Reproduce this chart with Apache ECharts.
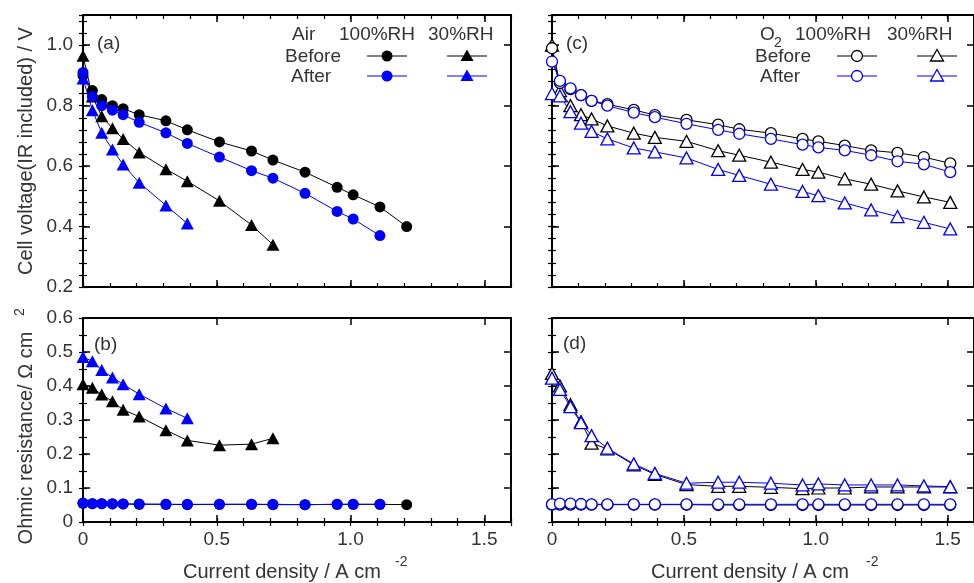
<!DOCTYPE html>
<html><head><meta charset="utf-8">
<script src="https://cdn.jsdelivr.net/npm/echarts@6/dist/echarts.min.js"></script>
<style>html,body{margin:0;padding:0;background:#fff}#c{width:974px;height:583px}</style>
</head><body><div id="c"></div>
<script>
// ---------- data ----------
const airX = [0, 0.035, 0.07, 0.11, 0.15, 0.21, 0.31, 0.39, 0.51, 0.63, 0.71, 0.83, 0.95, 1.01, 1.11, 1.21];
const airBefore100V = [0.90, 0.85, 0.82, 0.80, 0.79, 0.77, 0.75, 0.72, 0.68, 0.65, 0.62, 0.58, 0.53, 0.505, 0.465, 0.40];
const airAfter100V = [0.91, 0.83, 0.80, 0.785, 0.77, 0.745, 0.71, 0.675, 0.63, 0.585, 0.56, 0.51, 0.45, 0.425, 0.37];
const airBefore30V = [0.965, 0.83, 0.765, 0.725, 0.69, 0.645, 0.59, 0.55, 0.485, 0.405, 0.34];
const airAfter30V = [0.89, 0.785, 0.71, 0.655, 0.605, 0.545, 0.47, 0.41];
const airBefore100R = [0.055, 0.054, 0.054, 0.053, 0.053, 0.052, 0.052, 0.051, 0.052, 0.052, 0.051, 0.051, 0.052, 0.052, 0.052, 0.051];
const airAfter100R = [0.056, 0.054, 0.054, 0.054, 0.053, 0.053, 0.052, 0.052, 0.052, 0.052, 0.052, 0.051, 0.052, 0.052, 0.052];
const airBefore30R = [0.405, 0.395, 0.375, 0.355, 0.33, 0.31, 0.27, 0.24, 0.226, 0.229, 0.246];
const airAfter30R = [0.485, 0.473, 0.447, 0.425, 0.405, 0.376, 0.334, 0.305];

const o2X = [0, 0.03, 0.07, 0.11, 0.15, 0.21, 0.31, 0.39, 0.51, 0.63, 0.71, 0.83, 0.95, 1.01, 1.11, 1.21, 1.31, 1.41, 1.51];
const o2Before100V = [0.99, 0.875, 0.855, 0.835, 0.816, 0.805, 0.786, 0.769, 0.753, 0.737, 0.722, 0.709, 0.69, 0.682, 0.668, 0.652, 0.644, 0.63, 0.609];
const o2After100V = [0.946, 0.882, 0.857, 0.835, 0.816, 0.80, 0.777, 0.762, 0.74, 0.72, 0.707, 0.69, 0.671, 0.662, 0.652, 0.636, 0.616, 0.606, 0.58];
const o2Before30V = [1.0, 0.85, 0.80, 0.77, 0.756, 0.733, 0.709, 0.695, 0.682, 0.651, 0.636, 0.613, 0.589, 0.58, 0.558, 0.54, 0.518, 0.498, 0.48];
const o2After30V = [0.84, 0.832, 0.78, 0.742, 0.715, 0.69, 0.66, 0.647, 0.627, 0.589, 0.569, 0.54, 0.516, 0.502, 0.478, 0.455, 0.433, 0.414, 0.392];
const o2Before100R = [0.051, 0.051, 0.051, 0.051, 0.051, 0.051, 0.051, 0.051, 0.051, 0.05, 0.05, 0.05, 0.05, 0.05, 0.05, 0.05, 0.05, 0.05, 0.05];
const o2After100R = [0.052, 0.054, 0.054, 0.053, 0.052, 0.052, 0.052, 0.052, 0.052, 0.052, 0.052, 0.052, 0.052, 0.052, 0.052, 0.052, 0.052, 0.052, 0.052];
const o2Before30R = [0.437, 0.40, 0.345, 0.295, 0.232, 0.215, 0.168, 0.14, 0.11, 0.105, 0.105, 0.102, 0.098, 0.10, 0.10, 0.103, 0.103, 0.103, 0.103];
const o2After30R = [0.423, 0.39, 0.339, 0.292, 0.254, 0.217, 0.171, 0.143, 0.114, 0.117, 0.117, 0.114, 0.109, 0.112, 0.109, 0.109, 0.109, 0.106, 0.104];

const xTickLabels = ['0', '0.5', '1.0', '1.5'];
const panelLabels = ['(a)', '(b)', '(c)', '(d)'];

// ---------- layout ----------
const FONT = '"Liberation Sans", Arial, sans-serif';
const TXT = '#333';
const BLUE = '#0000ff';
const grids = [
  {left: 83, top: 15, width: 428, height: 272},
  {left: 83, top: 318, width: 428, height: 204},
  {left: 552, top: 15, width: 428, height: 272},
  {left: 552, top: 318, width: 428, height: 204}
];
const yCfg = [
  {min: 0.2, max: 1.1, major: 0.2, minor: 0.04, labels: true, showMax: false},
  {min: 0, max: 0.6, major: 0.1, minor: 0.05, labels: true, showMax: true},
  {min: 0.2, max: 1.1, major: 0.2, minor: 0.04, labels: false, showMax: false},
  {min: 0, max: 0.6, major: 0.1, minor: 0.05, labels: false, showMax: true}
];
const xAxes = [], yAxes = [];
const line2 = {show: true, onZero: false, lineStyle: {color: '#000', width: 2}};
function fmtX(v) { const i = Math.round(v / 0.5); return Math.abs(v - i * 0.5) < 1e-6 ? xTickLabels[i] : ''; }
grids.forEach((g, gi) => {
  const showX = (gi === 1 || gi === 3);
  ['bottom', 'top'].forEach(pos => {
    xAxes.push({type: 'value', gridIndex: gi, position: pos, min: 0, max: 1.6, interval: 0.5,
      axisLine: line2, splitLine: {show: false},
      axisTick: {show: true, inside: true, length: 7, lineStyle: {color: '#000', width: 1.5}},
      axisLabel: {show: showX && pos === 'bottom', showMaxLabel: false, margin: 8, color: TXT, fontSize: 19, fontFamily: FONT, formatter: fmtX}});
    xAxes.push({type: 'value', gridIndex: gi, position: pos, min: 0, max: 1.6, interval: 0.1,
      axisLine: {show: false}, splitLine: {show: false},
      axisTick: {show: true, inside: true, length: 4, lineStyle: {color: '#000', width: 1.2}},
      axisLabel: {show: false}});
  });
  const yc = yCfg[gi];
  ['left', 'right'].forEach(pos => {
    yAxes.push({type: 'value', gridIndex: gi, position: pos, min: yc.min, max: yc.max, interval: yc.major,
      axisLine: line2, splitLine: {show: false},
      axisTick: {show: true, inside: true, length: 7, lineStyle: {color: '#000', width: 1.5}},
      axisLabel: {show: yc.labels && pos === 'left', showMaxLabel: yc.showMax, showMinLabel: true, margin: 10, color: TXT, fontSize: 19, fontFamily: FONT,
        formatter: v => Math.abs(v) < 1e-9 ? '0' : v.toFixed(1)}});
    yAxes.push({type: 'value', gridIndex: gi, position: pos, min: yc.min, max: yc.max, interval: yc.minor,
      axisLine: {show: false}, splitLine: {show: false},
      axisTick: {show: true, inside: true, length: 4, lineStyle: {color: '#000', width: 1.2}},
      axisLabel: {show: false}});
  });
});

function pair(xs, ys) { return ys.map((y, i) => [xs[i], y]); }
function mk(name, gi, xs, ys, color, shape, open) {
  const tri = shape === 'triangle';
  return {
    name, type: 'line', xAxisIndex: gi * 4, yAxisIndex: gi * 4,
    data: pair(xs, ys), symbol: shape, symbolSize: tri ? [13, 12] : 11,
    lineStyle: {color, width: 1}, animation: false,
    itemStyle: open ? {color: '#fff', borderColor: color, borderWidth: 1.3} : {color, borderColor: color, borderWidth: 0},
    z: 3
  };
}
const series = [
  mk('Air Before 30%', 0, airX, airBefore30V, '#000', 'triangle', false),
  mk('Air Before 100%', 0, airX, airBefore100V, '#000', 'circle', false),
  mk('Air After 30%', 0, airX, airAfter30V, BLUE, 'triangle', false),
  mk('Air After 100%', 0, airX, airAfter100V, BLUE, 'circle', false),
  mk('Air Before 30% R', 1, airX, airBefore30R, '#000', 'triangle', false),
  mk('Air Before 100% R', 1, airX, airBefore100R, '#000', 'circle', false),
  mk('Air After 30% R', 1, airX, airAfter30R, BLUE, 'triangle', false),
  mk('Air After 100% R', 1, airX, airAfter100R, BLUE, 'circle', false),
  mk('O2 Before 30%', 2, o2X, o2Before30V, '#000', 'triangle', true),
  mk('O2 After 30%', 2, o2X, o2After30V, BLUE, 'triangle', true),
  mk('O2 Before 100%', 2, o2X, o2Before100V, '#000', 'circle', true),
  mk('O2 After 100%', 2, o2X, o2After100V, BLUE, 'circle', true),
  mk('O2 Before 30% R', 3, o2X, o2Before30R, '#000', 'triangle', true),
  mk('O2 After 30% R', 3, o2X, o2After30R, BLUE, 'triangle', true),
  mk('O2 Before 100% R', 3, o2X, o2Before100R, '#000', 'circle', true),
  mk('O2 After 100% R', 3, o2X, o2After100R, BLUE, 'circle', true)
];

// ---------- graphic: titles, panel labels, legends ----------
function txt(t, x, y, size, align, vAlign, rot) {
  return {type: 'text', x, y, rotation: rot || 0, z: 10,
    style: {text: t, font: size + 'px ' + FONT, fill: TXT, textAlign: align || 'left', textVerticalAlign: vAlign || 'middle'}};
}
function legLine(x1, x2, y, color) {
  return {type: 'line', z: 10, shape: {x1, y1: y, x2, y2: y}, style: {stroke: color, lineWidth: 1}};
}
function legCircle(cx, cy, color, open) {
  return {type: 'circle', z: 11, shape: {cx, cy, r: 5.5}, style: {fill: open ? '#fff' : color, stroke: color, lineWidth: open ? 1.3 : 0}};
}
function legTri(cx, cy, color, open) {
  return {type: 'polygon', z: 11, shape: {points: [[cx, cy - 6.5], [cx - 6.5, cy + 5], [cx + 6.5, cy + 5]]},
    style: {fill: open ? '#fff' : color, stroke: color, lineWidth: open ? 1.3 : 0}};
}
const graphic = [
  txt('Cell voltage(IR included) / V', 26, 151, 20, 'center', 'middle', Math.PI / 2),
  txt('Ohmic resistance/ Ω cm', 26, 438, 20, 'center', 'middle', Math.PI / 2),
  txt('2', 20, 316, 14, 'left', 'middle', Math.PI / 2),
  txt('Current density / A cm', 183, 572, 20, 'left', 'middle'),
  txt('-2', 395, 562, 14, 'left', 'middle'),
  txt('Current density / A cm', 651, 572, 20, 'left', 'middle'),
  txt('-2', 866, 562, 14, 'left', 'middle'),
  txt(panelLabels[0], 97, 44, 19),
  txt(panelLabels[1], 94, 345, 19),
  txt(panelLabels[2], 566, 44, 19),
  txt(panelLabels[3], 563, 344, 19),
  // Air legend
  txt('Air', 292, 35, 19),
  txt('100%RH', 339, 35, 19),
  txt('30%RH', 428, 35, 19),
  txt('Before', 285, 57, 19),
  txt('After', 291, 77, 19),
  legLine(367, 407, 56, '#000'), legCircle(387, 56, '#000', false),
  legLine(447, 487, 56, '#000'), legTri(467, 56, '#000', false),
  legLine(367, 407, 76, BLUE), legCircle(387, 76, BLUE, false),
  legLine(447, 487, 76, BLUE), legTri(467, 76, BLUE, false),
  // O2 legend
  txt('O', 760, 35, 19),
  txt('2', 774, 43, 14),
  txt('100%RH', 795, 35, 19),
  txt('30%RH', 887, 35, 19),
  txt('Before', 755, 57, 19),
  txt('After', 760, 77, 19),
  legLine(837, 877, 56, '#000'), legCircle(857, 56, '#000', true),
  legLine(917, 957, 56, '#000'), legTri(937, 56, '#000', true),
  legLine(837, 877, 76, BLUE), legCircle(857, 76, BLUE, true),
  legLine(917, 957, 76, BLUE), legTri(937, 76, BLUE, true)
];

const chart = echarts.init(document.getElementById('c'), null, {renderer: 'canvas'});
chart.setOption({
  animation: false,
  backgroundColor: '#fff',
  grid: grids.map(g => Object.assign({containLabel: false}, g)),
  xAxis: xAxes, yAxis: yAxes, series, graphic
});
</script></body></html>
